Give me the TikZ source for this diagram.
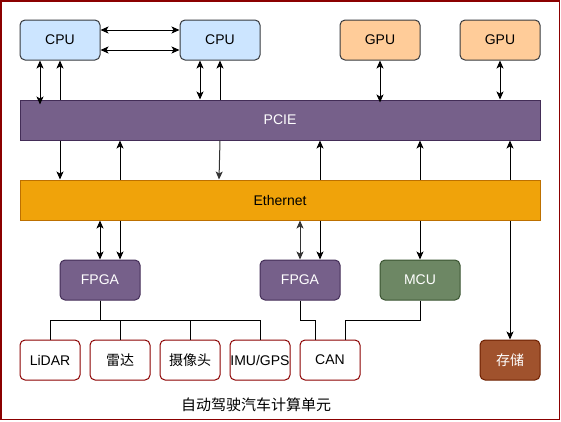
\documentclass[tikz,border=0pt]{standalone}
\usepackage{fontspec}
\setmainfont{Liberation Sans}
\newfontfamily\cjk{Noto Sans CJK SC}
\usetikzlibrary{arrows.meta,positioning,calc}

\definecolor{cpufill}{HTML}{CCE5FF}
\definecolor{cpuline}{HTML}{36393D}
\definecolor{gpufill}{HTML}{FFCC99}
\definecolor{purplefill}{HTML}{76608A}
\definecolor{purpleline}{HTML}{432D57}
\definecolor{ethfill}{HTML}{F0A30A}
\definecolor{ethline}{HTML}{BD7000}
\definecolor{mcufill}{HTML}{6D8764}
\definecolor{mculine}{HTML}{3A5431}
\definecolor{storefill}{HTML}{A0522D}
\definecolor{storeline}{HTML}{6D1F00}
\definecolor{frameline}{HTML}{8B0000}

\tikzset{
  box/.style={draw, line width=1pt, rounded corners=5pt, minimum width=80pt, minimum height=40pt, font=\fontsize{14}{16}\selectfont},
  cpubox/.style={box, fill=cpufill, draw=cpuline},
  gpubox/.style={box, fill=gpufill, draw=cpuline},
  busbox/.style={draw, line width=1pt, minimum width=520pt, minimum height=40pt, font=\fontsize{14}{16}\selectfont},
  fpgabox/.style={box, fill=purplefill, draw=purpleline, text=white},
  mcubox/.style={box, fill=mcufill, draw=mculine, text=white},
  sensorbox/.style={box, minimum width=60pt, draw=frameline, fill=white},
  storebox/.style={sensorbox, fill=storefill, draw=storeline, text=white},
  dbl/.style={line width=1pt, {Stealth[length=8pt,width=7pt,inset=2pt]}-{Stealth[length=8pt,width=7pt,inset=2pt]}},
  one/.style={line width=1pt, -{Stealth[length=8pt,width=7pt,inset=2pt]}},
  wire/.style={line width=1pt}
}

\begin{document}
\begin{tikzpicture}[x=1pt,y=-1pt]
	% frame
	\draw[frameline, line width=1.5pt] (0.75,0.75) rectangle (559.5,419.5);
	\useasboundingbox (0,0) rectangle (561,421);

	% top row
	\node[cpubox] (cpuA) at (60,40) {CPU};
	\node[cpubox] (cpuB) at (220,40) {CPU};
	\node[gpubox] (gpuA) at (380,40) {GPU};
	\node[gpubox] (gpuB) at (500,40) {GPU};

	% buses
	\node[busbox, fill=purplefill, draw=purpleline, text=white] (pcie) at (280,120) {PCIE};

	% lower row
	\node[fpgabox] (fpgaA) at (100,280) {FPGA};
	\node[fpgabox] (fpgaB) at (300,280) {FPGA};
	\node[mcubox] (mcu) at (420,280) {MCU};

	% sensors
	\node[sensorbox] (lidar) at (50,360) {LiDAR};
	\node[sensorbox] (radar) at (120,360) {\cjk 雷达};
	\node[sensorbox] (camera) at (190,360) {\cjk 摄像头};
	\node[sensorbox, inner xsep=0pt] (imu) at (260,360) {IMU/GPS};
	\node[sensorbox] (can) at (330,360) {CAN};
	\node[storebox] (store) at (510,360) {\cjk 存储};

	% storage link runs behind the ethernet bar
	\draw[dbl] (store.north -| 510,0) -- (pcie.south -| 510,0);

	\node[busbox, fill=ethfill, draw=ethline] (eth) at (280,200) {Ethernet};

	% cpu <-> cpu
	\draw[dbl] ([yshift=-10pt]cpuA.east) -- ([yshift=-10pt]cpuB.west);
	\draw[dbl] ([yshift=10pt]cpuA.east) -- ([yshift=10pt]cpuB.west);

	% cpu / gpu <-> pcie
	\draw[dbl] ([xshift=-20pt]cpuA.south) -- ([xshift=-20pt,yshift=-5pt]cpuA.south |- pcie.north);
	\draw[one] (pcie.north -| cpuA.south) -- (cpuA.south);
	\draw[dbl] ([xshift=-20pt]cpuB.south) -- ([xshift=-20pt]cpuB.south |- pcie.north);
	\draw[one] (pcie.north -| cpuB.south) -- (cpuB.south);
	\draw[dbl] (gpuA.south) -- ([yshift=-3pt]gpuA.south |- pcie.north);
	\draw[dbl] (gpuB.south) -- (gpuB.south |- pcie.north);

	% pcie <-> ethernet
	\draw[one] (pcie.south -| 60,0) -- (eth.north -| 60,0);
	\draw[one] (eth.north -| 120,0) -- (pcie.south -| 120,0);
	\draw[one, gray!40!black] (pcie.south -| 220,0) -- (eth.north -| 219,0);
	\draw[one] (eth.north -| 320,0) -- (pcie.south -| 320,0);
	\draw[one] (eth.north -| 420,0) -- (pcie.south -| 420,0);

	% ethernet -> fpga / mcu
	\draw[dbl] (fpgaA.north) -- (fpgaA.north |- eth.south);
	\draw[one] (eth.south -| 120,0) -- ([xshift=20pt]fpgaA.north);
	\draw[dbl, gray!40!black] (fpgaB.north) -- (fpgaB.north |- eth.south);
	\draw[one] (eth.south -| 320,0) -- ([xshift=20pt]fpgaB.north);
	\draw[one] (eth.south -| mcu.north) -- (mcu.north);

	% sensor wiring
	\draw[wire] (fpgaA.south) -- (100,320) -| (lidar.north);
	\draw[wire] (fpgaA.south) -- (100,320) -| (radar.north);
	\draw[wire] (fpgaA.south) -- (100,320) -| (camera.north);
	\draw[wire] (fpgaA.south) -- (100,320) -| (imu.north);
	\draw[wire] (fpgaB.south) -- (300,320) -| ([xshift=-15pt]can.north);
	\draw[wire] (mcu.south) -- (420,320) -| ([xshift=15pt]can.north);

	% caption
	\node[font=\cjk\fontsize{15}{17}\selectfont] (title) at (256,405) {自动驾驶汽车计算单元};
\end{tikzpicture}
\end{document}
